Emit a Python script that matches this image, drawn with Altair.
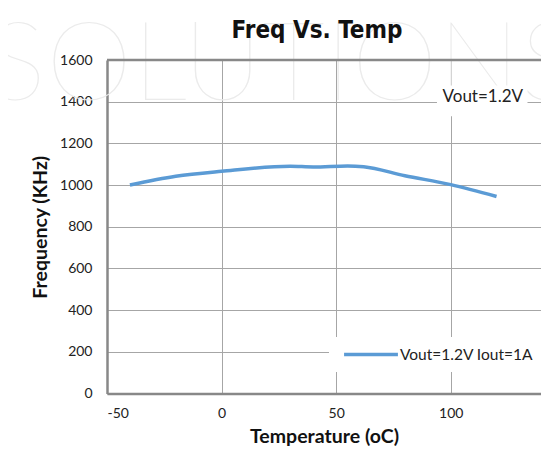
import altair as alt
import pandas as pd

temps = [-40, -20, 0, 30, 40, 55, 62, 80, 100, 120]
freqs = [1000, 1042, 1066, 1090, 1087, 1092, 1088, 1045, 1002, 945]
series_name = "Vout=1.2V Iout=1A"
chart_title = ["Freq Vs. Temp"]

note_text = ["Vout=1.2V"]
note_x = [114]
note_y = [1422]
note_box = {"x": [94], "x2": [133.5], "y": [1330], "y2": [1478]}

df = pd.DataFrame({"temp": temps, "freq": freqs, "series": series_name})
note_df = pd.DataFrame({"t": note_text, "x": note_x, "y": note_y,
                        "bx": note_box["x"], "bx2": note_box["x2"],
                        "by": note_box["y"], "by2": note_box["y2"]})

LABEL_FONT = "Lato"
xscale = alt.Scale(domain=[-50, 139.4], nice=False, zero=False)
yscale = alt.Scale(domain=[0, 1600], nice=False)

watermark = alt.Chart(pd.DataFrame({"w": ["SOLUTIONS"]})).mark_text(
    font="Lato", fontWeight=100, fontSize=110, color="#ebebeb",
    align="center", baseline="alphabetic"
).encode(text="w:N", x=alt.value(176), y=alt.value(40))

title = alt.Chart(pd.DataFrame({"t": chart_title})).mark_text(
    font="DejaVu Sans Condensed, Roboto Condensed, Liberation Sans Narrow, Roboto, sans-serif",
    fontWeight="bold", fontSize=24, color="#111",
    align="center", baseline="alphabetic"
).encode(text="t:N", x=alt.value(210), y=alt.value(-22))

line = alt.Chart(df).mark_line(strokeWidth=3.5, interpolate="monotone").encode(
    x=alt.X("temp:Q", scale=xscale,
            axis=alt.Axis(title="Temperature (oC)", values=[-50, 0, 50, 100],
                          labelExpr="'' + datum.value")),
    y=alt.Y("freq:Q", scale=yscale,
            axis=alt.Axis(title="Frequency (KHz)", values=list(range(0, 1601, 200)),
                          labelExpr="'' + datum.value")),
    color=alt.Color("series:N",
                    scale=alt.Scale(domain=[series_name], range=["#5B9BD5"]),
                    legend=alt.Legend(title=None, orient="none", legendX=222, legendY=277,
                                      fillColor="white", padding=9, clipHeight=17,
                                      symbolType="stroke", symbolSize=2900,
                                      symbolStrokeWidth=3.5, symbolOffset=4,
                                      labelFontSize=15.5,
                                      labelFont=LABEL_FONT, labelColor="#222",
                                      labelOffset=0)),
)

box = alt.Chart(note_df).mark_rect(color="white").encode(
    x=alt.X("bx:Q", scale=xscale), x2="bx2:Q",
    y=alt.Y("by:Q", scale=yscale), y2="by2:Q")
note = alt.Chart(note_df).mark_text(fontSize=17, font=LABEL_FONT, color="#222").encode(
    x=alt.X("x:Q", scale=xscale), y=alt.Y("y:Q", scale=yscale), text="t:N")

topline = alt.Chart(pd.DataFrame({"y": [1600]})).mark_rule(
    color="#888888", strokeWidth=2.5).encode(y=alt.Y("y:Q", scale=yscale))

chart = alt.layer(watermark, title, box, note, line, topline).properties(
    width=434, height=333.5,
    autosize=alt.AutoSizeParams(type="none"),
    padding={"left": 99, "top": 52, "right": 0, "bottom": 55},
).configure_view(stroke=None).configure_axis(
    grid=True, gridColor="#a6a6a6", gridWidth=1,
    domainColor="#888888", domainWidth=2.5,
    ticks=False, labelFont=LABEL_FONT, labelFontSize=14, labelColor="#222",
    titleFont=LABEL_FONT, titleFontSize=19.5, titleFontWeight="bold", titleColor="#111",
).configure_axisX(labelPadding=13, titlePadding=7).configure_axisY(
    labelPadding=15, titlePadding=9)

chart.save("out.html", embed_options={"renderer": "svg", "actions": False})
